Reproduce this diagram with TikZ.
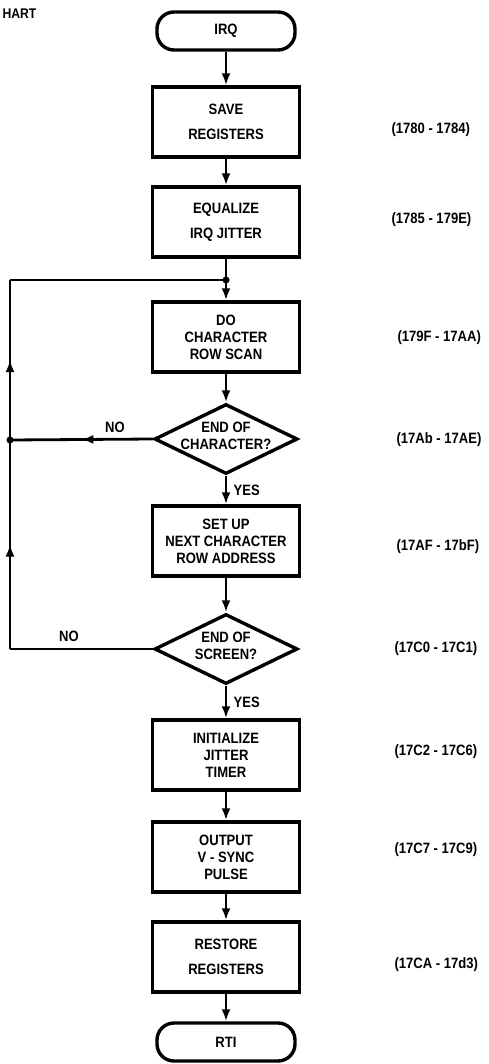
\documentclass[tikz,border=0pt]{standalone}
\usepackage{fontspec}
\setmainfont{Liberation Sans}[FakeStretch=0.87]
\usepackage{tikz}
\usetikzlibrary{
  arrows.meta,
  decorations.markings,
  shapes.geometric
}
\tikzset{>={Latex[length=12pt,width=9pt]}}
\tikzset{
  box/.style={draw, line width=3.4pt, minimum width=147pt, minimum height=70pt, align=center},
  term/.style={draw, line width=3.4pt, rounded corners=17pt, minimum width=138pt, minimum height=38pt},
  decision/.style={draw, diamond, line width=3.4pt, minimum width=143pt, minimum height=70pt, inner sep=0pt},
  addr/.style={anchor=west, font=\bfseries\fontsize{15}{17}\selectfont},
  flow/.style={line width=2.8pt},
  midarrow/.style={postaction={decorate}, decoration={markings, mark=at position 0.5 with {\arrow{>}}}}
}

\begin{document}
\begin{tikzpicture}[x=1pt, y=-1pt, every node/.style={font=\bfseries\fontsize{15}{17}\selectfont}]
				\useasboundingbox (0,0) rectangle (488,1064);
				\coordinate (jtop) at (10,280);
				\coordinate (jmid) at (10,440);
				\coordinate (jbot) at (10,649);
				\coordinate (jin) at (226,280);
				\node[anchor=west, font=\bfseries\fontsize{14}{16}\selectfont] (title) at (-1,14) {HART};
				\node[term] (irq) at (226,31) {IRQ};
				\node[box] (save) at (226,122) {SAVE\\[8pt]REGISTERS};
				\node[box] (equal) at (226,222) {EQUALIZE\\[8pt]IRQ JITTER};
				\node[box] (scan) at (226,337) {DO\\CHARACTER\\ROW SCAN};
				\node[decision] (endch) at (226,439) {};
				\node[align=center] (endchtxt) at (226,436) {END OF\\CHARACTER?};
				\node[box] (setup) at (226,541) {SET UP\\NEXT CHARACTER\\ROW ADDRESS};
				\node[decision] (endsc) at (226,649) {};
				\node[align=center] (endsctxt) at (226,646) {END OF\\SCREEN?};
				\node[box] (init) at (226,755) {INITIALIZE\\JITTER\\TIMER};
				\node[box] (vsync) at (226,857) {OUTPUT\\V - SYNC\\PULSE};
				\node[box] (restore) at (226,957) {RESTORE\\[8pt]REGISTERS};
				\node[term] (rti) at (226,1042) {RTI};
				\draw[flow, ->] (irq) -- (save);
				\draw[flow, ->] (save) -- (equal);
				\draw[flow] (equal) -- (jin);
				\draw[flow, ->] (jin) -- (scan);
				\draw[flow, ->] (scan) -- (endch);
				\draw[flow, ->] (endch) -- node[right=3pt] (yes1) {YES} (setup);
				\draw[flow, ->] (setup) -- (endsc);
				\draw[flow, ->] (endsc) -- node[right=3pt] (yes2) {YES} (init);
				\draw[flow, ->] (init) -- (vsync);
				\draw[flow, ->] (vsync) -- (restore);
				\draw[flow, ->] (restore) -- (rti);
				\draw[flow, midarrow] (endch.west) -- (jmid);
				\draw[flow] (endsc.west) -- (jbot);
				\draw[flow, midarrow] (jbot) -- (jmid);
				\draw[flow, midarrow] (jmid) -- (jtop);
				\draw[flow] (jtop) -- (jin);
				\fill (jin) circle (3.5);
				\fill (jmid) circle (3.5);
				\node (no1) at (115,427) {NO};
				\node (no2) at (69,636) {NO};
				\node[addr] (a1) at (388,130) {(1780 - 1784)};
				\node[addr] (a2) at (388,220) {(1785 - 179E)};
				\node[addr] (a3) at (394,338) {(179F - 17AA)};
				\node[addr] (a4) at (393,440) {(17Ab - 17AE)};
				\node[addr] (a5) at (393,547) {(17AF - 17bF)};
				\node[addr] (a6) at (391,649) {(17C0 - 17C1)};
				\node[addr] (a7) at (391,752) {(17C2 - 17C6)};
				\node[addr] (a8) at (391,850) {(17C7 - 17C9)};
				\node[addr] (a9) at (391,965) {(17CA - 17d3)};
			\end{tikzpicture}
\end{document}
